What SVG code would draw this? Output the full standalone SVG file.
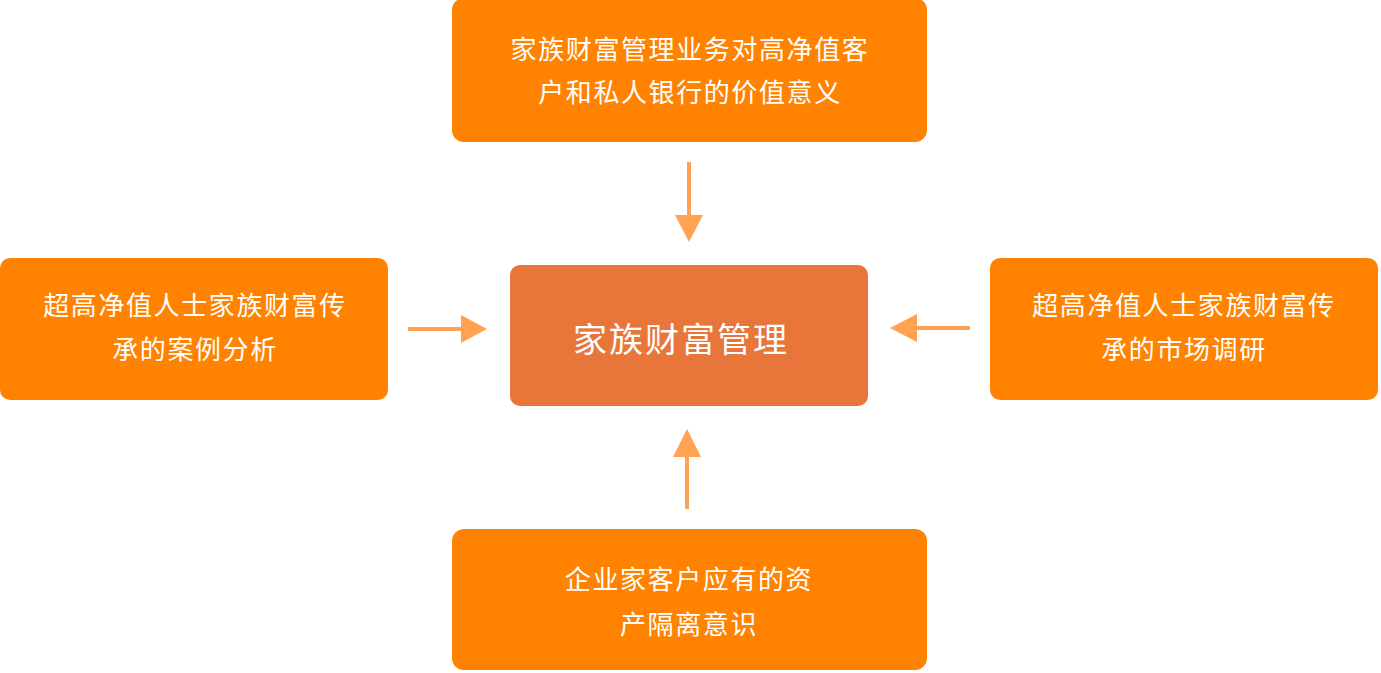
<svg xmlns="http://www.w3.org/2000/svg" width="1381" height="673" viewBox="0 0 1381 673">
<defs>
<style>
.box{fill:#FF8300;}
.center{fill:#E87539;}
.t{fill:#FFFFFF;font-family:"Noto Sans CJK SC","Noto Sans",sans-serif;font-size:26px;letter-spacing:1.6px;text-anchor:middle;dominant-baseline:central;}
.tc{fill:#FFFFFF;font-family:"Noto Sans CJK SC","Noto Sans",sans-serif;font-size:34px;letter-spacing:2px;text-anchor:middle;dominant-baseline:central;}
.conn{stroke:#FFA252;stroke-width:4;fill:none;}
.head{fill:#FFA252;}
</style>
</defs>
<rect width="1381" height="673" fill="#FFFFFF"/>
<g id="node-top">
<rect class="box" x="452" y="-2" width="475" height="144" rx="12"/>
<text class="t" x="690" y="47">家族财富管理业务对高净值客</text>
<text class="t" x="690" y="90">户和私人银行的价值意义</text>
</g>
<g id="node-center">
<rect class="center" x="510" y="265" width="358" height="141" rx="10"/>
<text class="tc" x="681" y="337">家族财富管理</text>
</g>
<g id="node-left">
<rect class="box" x="0" y="258" width="388" height="142" rx="10"/>
<text class="t" x="195" y="303">超高净值人士家族财富传</text>
<text class="t" x="195" y="347">承的案例分析</text>
</g>
<g id="node-right">
<rect class="box" x="990" y="258" width="388" height="142" rx="10"/>
<text class="t" x="1184" y="303">超高净值人士家族财富传</text>
<text class="t" x="1184" y="347">承的市场调研</text>
</g>
<g id="node-bottom">
<rect class="box" x="452" y="529" width="475" height="141" rx="12"/>
<text class="t" x="689" y="577">企业家客户应有的资</text>
<text class="t" x="689" y="622">产隔离意识</text>
</g>
<g id="connectors">
<line class="conn" x1="689" y1="162" x2="689" y2="218"/>
<polygon class="head" points="675,215 703,215 689,242"/>
<line class="conn" x1="408" y1="329" x2="464" y2="329"/>
<polygon class="head" points="461,315 461,343 487,329"/>
<line class="conn" x1="970" y1="328" x2="914" y2="328"/>
<polygon class="head" points="917,314 917,342 890,328"/>
<line class="conn" x1="687" y1="509" x2="687" y2="454"/>
<polygon class="head" points="673,457 701,457 687,429"/>
</g>
</svg>
